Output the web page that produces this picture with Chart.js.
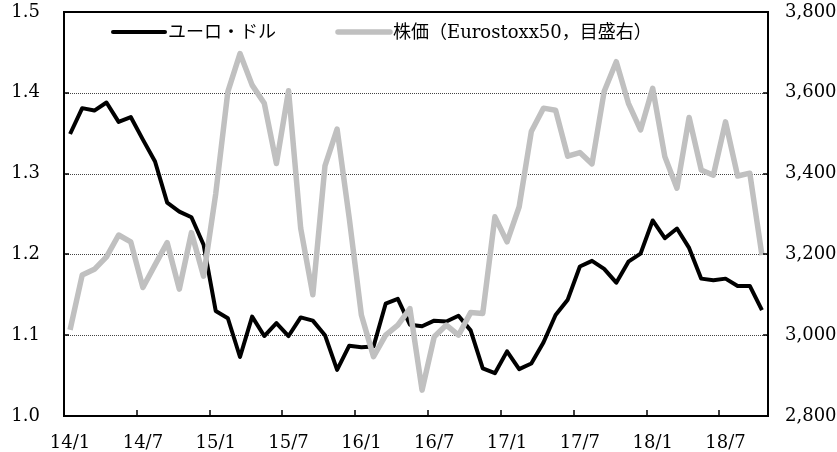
<!DOCTYPE html>
<html>
<head>
<meta charset="utf-8">
<script src="https://cdn.jsdelivr.net/npm/chart.js@4.4.1/dist/chart.umd.min.js"></script>
<style>
  html, body { margin: 0; padding: 0; background: #fff; }
  #c { display: block; }
</style>
</head>
<body>
<canvas id="c" width="837" height="452"></canvas>
<script>
// monthly, 2014/1 .. 2018/10
const months = [
  "14/1","14/2","14/3","14/4","14/5","14/6","14/7","14/8","14/9","14/10","14/11","14/12",
  "15/1","15/2","15/3","15/4","15/5","15/6","15/7","15/8","15/9","15/10","15/11","15/12",
  "16/1","16/2","16/3","16/4","16/5","16/6","16/7","16/8","16/9","16/10","16/11","16/12",
  "17/1","17/2","17/3","17/4","17/5","17/6","17/7","17/8","17/9","17/10","17/11","17/12",
  "18/1","18/2","18/3","18/4","18/5","18/6","18/7","18/8","18/9","18/10",
];

const eurUsd = [
  1.349, 1.381, 1.378, 1.388, 1.364, 1.370, 1.342, 1.315, 1.264, 1.253, 1.246, 1.212,
  1.130, 1.121, 1.073, 1.123, 1.099, 1.115, 1.099, 1.122, 1.118, 1.100, 1.057, 1.087,
  1.085, 1.086, 1.139, 1.145, 1.113, 1.111, 1.118, 1.117, 1.124, 1.106, 1.059, 1.053,
  1.080, 1.058, 1.065, 1.091, 1.125, 1.144, 1.185, 1.192, 1.182, 1.165, 1.191, 1.201,
  1.242, 1.220, 1.232, 1.208, 1.170, 1.168, 1.170, 1.161, 1.161, 1.131,
];

const stoxx = [
  3013, 3149, 3163, 3194, 3248, 3231, 3118, 3174, 3229, 3114, 3254, 3146,
  3350, 3603, 3697, 3619, 3574, 3425, 3605, 3265, 3100, 3419, 3510, 3290,
  3050, 2947, 3000, 3025, 3066, 2864, 2996, 3025, 3000, 3056, 3054, 3293,
  3231, 3318, 3504, 3562, 3557, 3443, 3452, 3424, 3603, 3677, 3574, 3508,
  3611, 3442, 3364, 3539, 3409, 3396, 3528, 3394, 3401, 3198,
];

const leftTicks = [1.0, 1.1, 1.2, 1.3, 1.4, 1.5];
const rightTicks = [2800, 3000, 3200, 3400, 3600, 3800];
const seriesNames = ["ユーロ・ドル", "株価（Eurostoxx50，目盛右）"];

const FONT = "'DejaVu Serif', 'Noto Sans CJK JP', serif";

// gridlines, frame, inside tick marks and the legend are drawn by hand
const framePlugin = {
  id: "frame",
  beforeDatasetsDraw(chart) {
    const { ctx, chartArea: a, scales: { y } } = chart;
    ctx.save();
    ctx.strokeStyle = "#444";
    ctx.lineWidth = 1;
    ctx.setLineDash([1, 1]);
    leftTicks.slice(1, -1).forEach((v) => {
      const py = Math.round(y.getPixelForValue(v)) + 0.5;
      ctx.beginPath();
      ctx.moveTo(a.left, py);
      ctx.lineTo(a.right, py);
      ctx.stroke();
    });
    ctx.restore();
  },
  afterDatasetsDraw(chart) {
    const { ctx, chartArea: a, scales: { x, y, y2 } } = chart;
    ctx.save();
    ctx.strokeStyle = "#000";
    ctx.lineWidth = 2;
    ctx.strokeRect(a.left, a.top, a.right - a.left, a.bottom - a.top);

    ctx.lineWidth = 1.5;
    ctx.beginPath();
    months.forEach((m, i) => {
      if (i === 0 || i % 6) return;
      const px = Math.round((x.getPixelForValue(i - 1) + x.getPixelForValue(i)) / 2);
      ctx.moveTo(px, a.bottom);
      ctx.lineTo(px, a.bottom - 6);
    });
    leftTicks.forEach((v) => {
      const py = Math.round(y.getPixelForValue(v));
      ctx.moveTo(a.left, py);
      ctx.lineTo(a.left + 5, py);
    });
    rightTicks.forEach((v) => {
      const py = Math.round(y2.getPixelForValue(v));
      ctx.moveTo(a.right, py);
      ctx.lineTo(a.right - 5, py);
    });
    ctx.stroke();

    // legend inside the plot
    const starts = [113, 338];
    ctx.font = "18px " + FONT;
    ctx.textBaseline = "middle";
    ctx.fillStyle = "#000";
    chart.data.datasets.forEach((ds, i) => {
      const lx = starts[i], ly = 32;
      ctx.strokeStyle = ds.borderColor;
      ctx.lineWidth = ds.borderWidth;
      ctx.lineCap = "round";
      ctx.beginPath();
      ctx.moveTo(lx, ly);
      ctx.lineTo(lx + 52, ly);
      ctx.stroke();
      ctx.fillText(ds.label, lx + 55, ly + 1);
    });
    ctx.restore();
  },
};

// y axes: fixed width and no extra label padding, so the plot box sits where it should
const fixAxis = (w) => (s) => {
  s.width = w;
  s.paddingTop = 0;
  s.paddingBottom = 0;
};

new Chart(document.getElementById("c"), {
  type: "line",
  data: {
    labels: months,
    datasets: [
      {
        label: seriesNames[0],
        data: eurUsd,
        yAxisID: "y",
        borderColor: "#000",
        borderWidth: 4,
        borderJoinStyle: "round",
        pointRadius: 0,
        tension: 0,
        order: 2,
      },
      {
        label: seriesNames[1],
        data: stoxx,
        yAxisID: "y2",
        borderColor: "#c0c0c0",
        borderWidth: 5.5,
        borderJoinStyle: "round",
        pointRadius: 0,
        tension: 0,
        order: 1,
      },
    ],
  },
  options: {
    responsive: false,
    animation: false,
    layout: { padding: { top: 12, left: 0, right: 0, bottom: 0 } },
    plugins: { legend: { display: false }, tooltip: { enabled: false } },
    scales: {
      x: {
        type: "category",
        offset: true,
        grid: { display: false },
        border: { display: false },
        ticks: {
          autoSkip: false,
          maxRotation: 0,
          padding: 9,
          color: "#000",
          font: { family: FONT, size: 18 },
          callback: (v, i) => (i % 6 === 0 ? months[i] : ""),
        },
        afterFit: (s) => { s.height = 36; s.paddingLeft = 0; s.paddingRight = 0; },
      },
      y: {
        position: "left",
        min: 1.0,
        max: 1.5,
        grid: { display: false, drawTicks: false },
        border: { display: false },
        afterBuildTicks: (s) => { s.ticks = leftTicks.map((v) => ({ value: v })); },
        ticks: {
          padding: 24,
          color: "#000",
          font: { family: FONT, size: 18 },
          callback: (v) => v.toFixed(1),
        },
        afterFit: fixAxis(64),
      },
      y2: {
        position: "right",
        min: 2800,
        max: 3800,
        grid: { display: false, drawTicks: false },
        border: { display: false },
        afterBuildTicks: (s) => { s.ticks = rightTicks.map((v) => ({ value: v })); },
        ticks: {
          padding: 17,
          color: "#000",
          font: { family: FONT, size: 18 },
          callback: (v) => v.toLocaleString("en-US"),
        },
        afterFit: fixAxis(69),
      },
    },
  },
  plugins: [framePlugin],
});
</script>
</body>
</html>
